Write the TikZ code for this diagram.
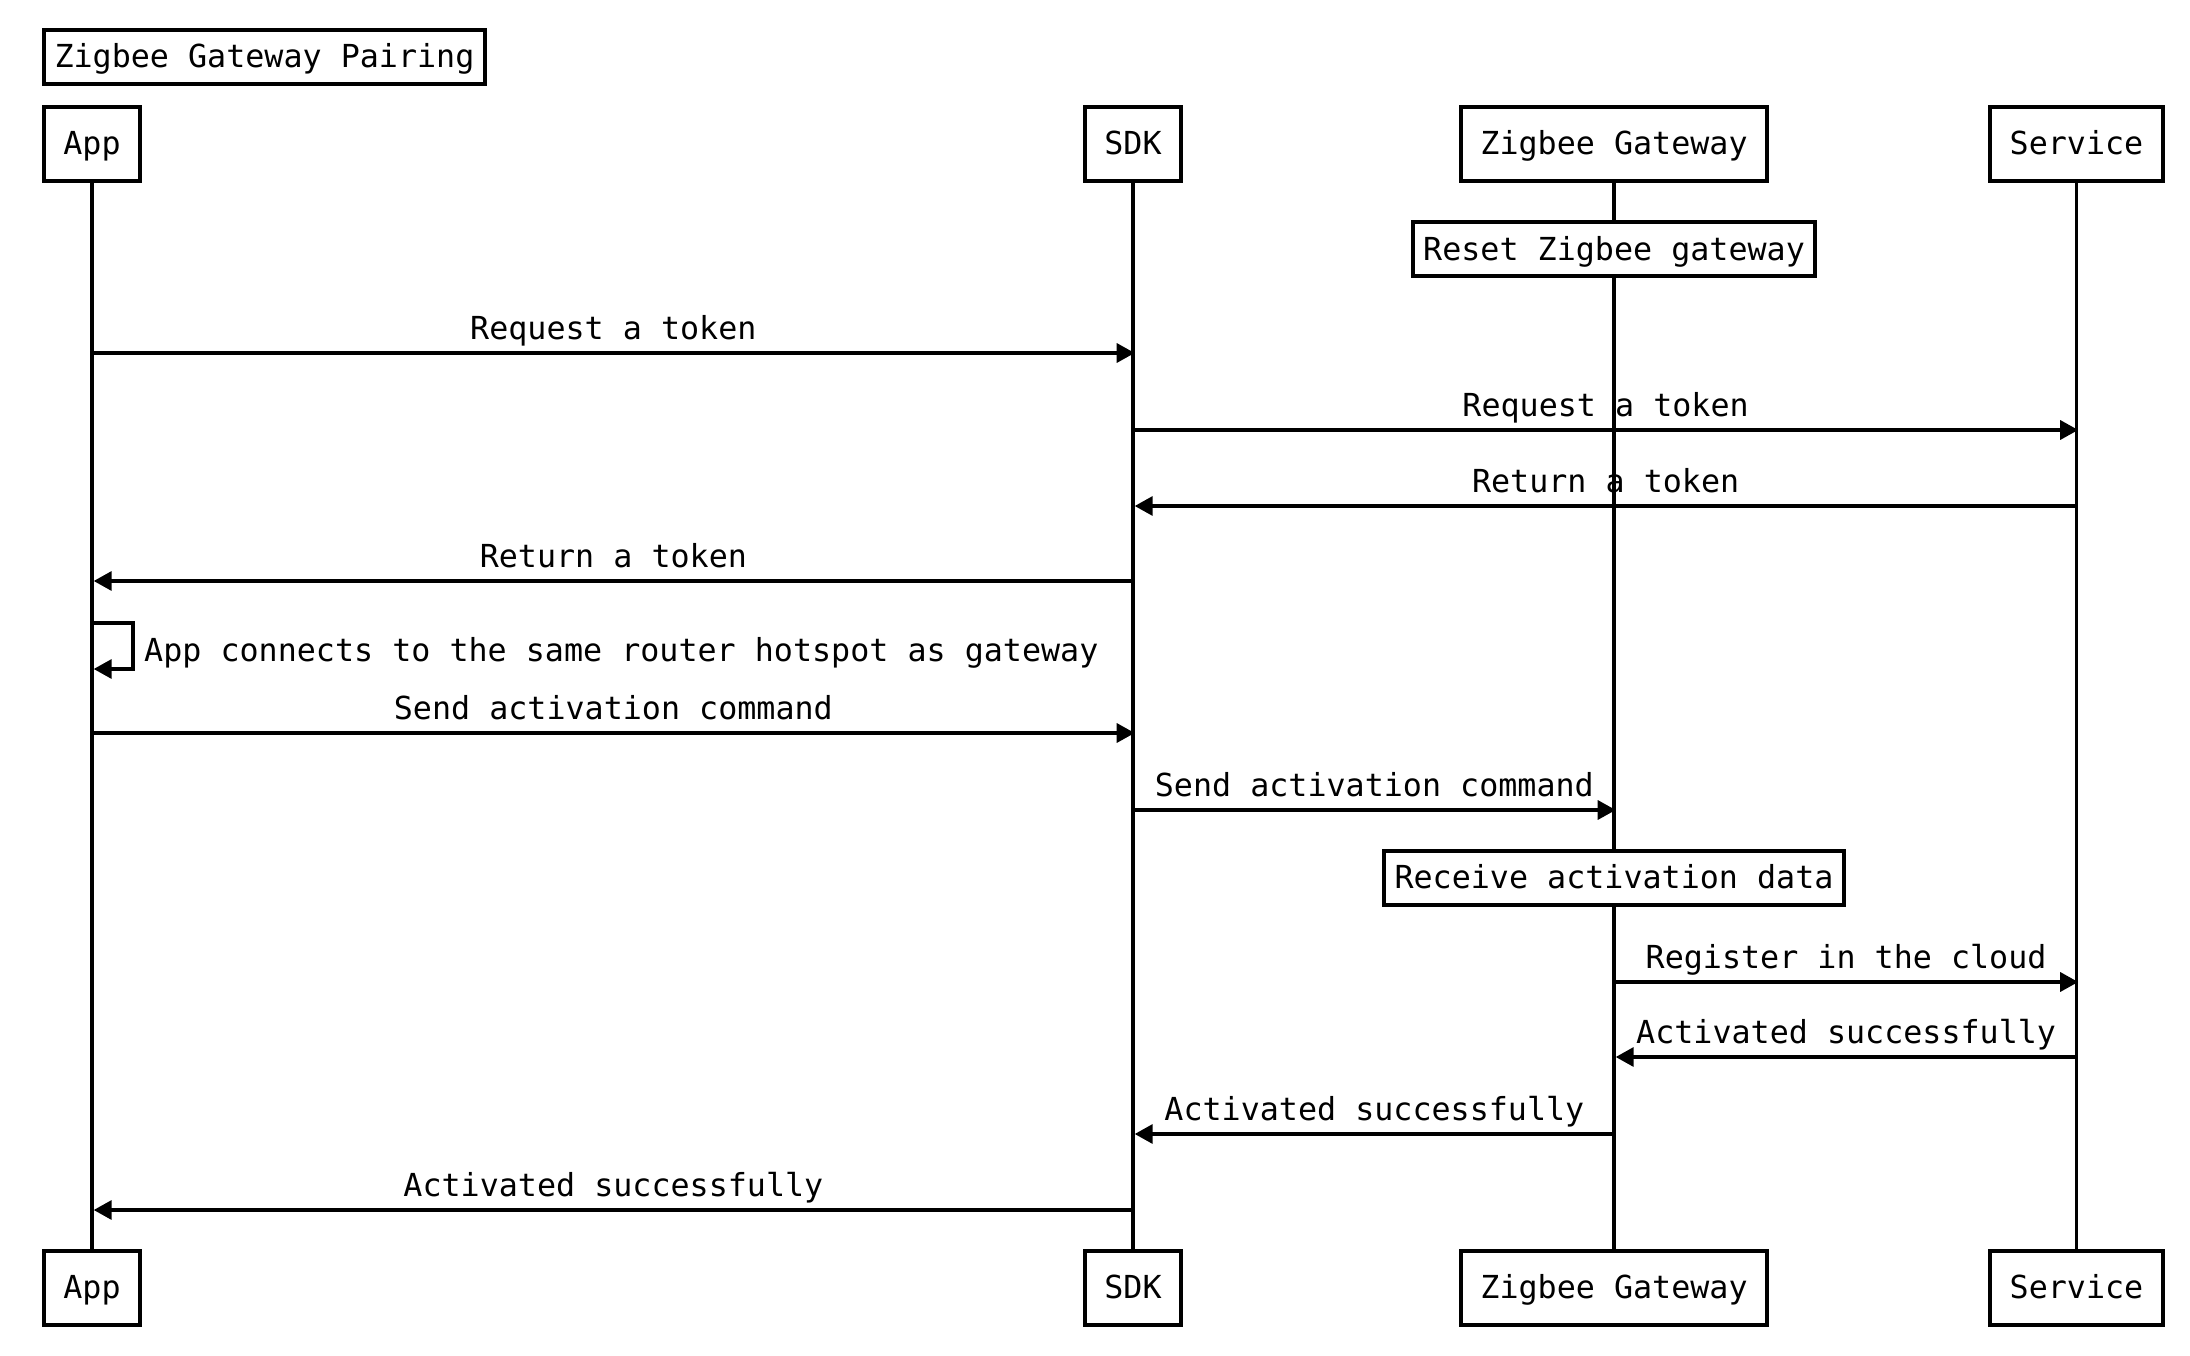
\documentclass[tikz,border=0pt]{standalone}
\usepackage{fontspec}
\setmainfont{DejaVu Sans Mono}
\usetikzlibrary{arrows.meta}
\begin{document}
\begin{tikzpicture}[x=1pt,y=-1pt,
  every node/.style={font=\fontsize{31.7}{38}\selectfont},
  pbox/.style={draw, line width=4pt, fill=white, inner xsep=19.8pt, inner ysep=0pt,
    minimum height=74pt, text height=22pt, text depth=0pt},
  nbox/.style={draw, line width=4pt, fill=white, inner xsep=10.6pt, inner ysep=0pt,
    minimum height=54pt, text height=22pt, text depth=0pt},
  life/.style={line width=3.4pt},
  msg/.style={line width=3.4pt, -{Triangle[length=18pt,width=19pt]}},
  lbl/.style={anchor=base, yshift=14pt, inner sep=0pt}
]
\useasboundingbox (0,0) rectangle (2190,1356);

% title
\node[nbox, minimum height=54pt] (title) at (264.5,57) {Zigbee Gateway Pairing};

% participants
\node[pbox] (appT) at (92,144) {App};
\node[pbox] (sdkT) at (1133,144) {SDK};
\node[pbox] (gwT) at (1614,144) {Zigbee Gateway};
\node[pbox] (srvT) at (2076.5,144) {Service};
\node[pbox] (appB) at (92,1287.5) {App};
\node[pbox] (sdkB) at (1133,1287.5) {SDK};
\node[pbox] (gwB) at (1614,1287.5) {Zigbee Gateway};
\node[pbox] (srvB) at (2076.5,1287.5) {Service};

% lifelines
\draw[life] (appT.south) -- (appB.north);
\draw[life] (sdkT.south) -- (sdkB.north);
\draw[life] (gwT.south) -- (gwB.north);
\draw[life] (srvT.south) -- (srvB.north);

% notes
\node[nbox] (reset) at (1614,249.5) {Reset Zigbee gateway};
\node[nbox] (recv) at (1614,877.5) {Receive activation data};

% message rows
\coordinate (m1) at (0,353);
\coordinate (m2) at (0,430);
\coordinate (m3) at (0,506);
\coordinate (m4) at (0,581);
\coordinate (m5a) at (0,623);
\coordinate (m5b) at (0,669);
\coordinate (m6) at (0,733);
\coordinate (m7) at (0,810);
\coordinate (m9) at (0,982);
\coordinate (m10) at (0,1057);
\coordinate (m11) at (0,1134);
\coordinate (m12) at (0,1210);

\draw[msg] (appT.south |- m1) -- node[lbl]{Request a token} ([xshift=1.7pt]sdkT.south |- m1);
\draw[msg] (sdkT.south |- m2) -- node[lbl]{Request a token} ([xshift=1.7pt]srvT.south |- m2);
\draw[msg] (srvT.south |- m3) -- node[lbl]{Return a token} ([xshift=1.7pt]sdkT.south |- m3);
\draw[msg] (sdkT.south |- m4) -- node[lbl]{Return a token} ([xshift=1.7pt]appT.south |- m4);

\coordinate (loopR) at (133,0);
\draw[msg] (appT.south |- m5a) -- (loopR |- m5a) -- (loopR |- m5b)
  -- ([xshift=1.7pt]appT.south |- m5b);
\node[anchor=base west, inner sep=0pt] (loopL) at (144,661) {App connects to the same router hotspot as gateway};

\draw[msg] (appT.south |- m6) -- node[lbl]{Send activation command} ([xshift=1.7pt]sdkT.south |- m6);
\draw[msg] (sdkT.south |- m7) -- node[lbl]{Send activation command} ([xshift=1.7pt]gwT.south |- m7);
\draw[msg] (gwT.south |- m9) -- node[lbl]{Register in the cloud} ([xshift=1.7pt]srvT.south |- m9);
\draw[msg] (srvT.south |- m10) -- node[lbl]{Activated successfully} ([xshift=1.7pt]gwT.south |- m10);
\draw[msg] (gwT.south |- m11) -- node[lbl]{Activated successfully} ([xshift=1.7pt]sdkT.south |- m11);
\draw[msg] (sdkT.south |- m12) -- node[lbl]{Activated successfully} ([xshift=1.7pt]appT.south |- m12);
\end{tikzpicture}
\end{document}
